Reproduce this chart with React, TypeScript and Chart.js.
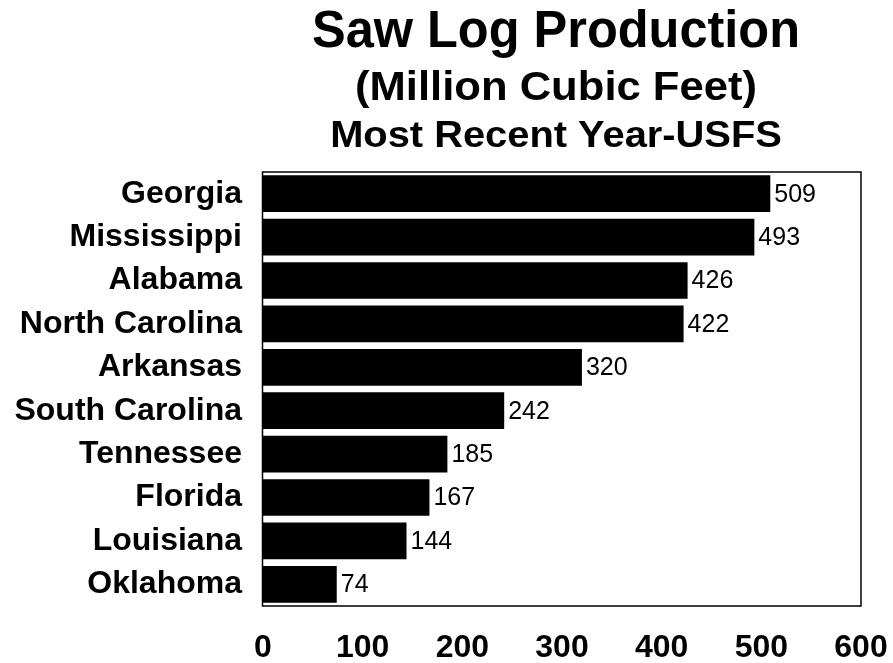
import React, { useEffect, useRef } from "react";
import { Chart, registerables } from "chart.js";

Chart.register(...registerables);

const states = [
  "Georgia",
  "Mississippi",
  "Alabama",
  "North Carolina",
  "Arkansas",
  "South Carolina",
  "Tennessee",
  "Florida",
  "Louisiana",
  "Oklahoma",
];
const sawLogVolume = [509, 493, 426, 422, 320, 242, 185, 167, 144, 74];
const titleLines = [
  "Saw Log Production",
  "(Million Cubic Feet)",
  "Most Recent Year-USFS",
];
const axisMin = 0;
const axisMax = 600;
const axisStep = 100;

const FONT = "'Liberation Sans', Arial, Helvetica, sans-serif";

const titlePlugin = {
  id: "stackedTitle",
  afterDraw(chart: any) {
    const { ctx } = chart;
    const cx = 556;
    const specs = [
      { text: titleLines[0], size: 51, y: 47, sx: 0.99 },
      { text: titleLines[1], size: 40, y: 100, sx: 1.09 },
      { text: titleLines[2], size: 37, y: 147, sx: 1.077 },
    ];
    ctx.save();
    ctx.fillStyle = "#000";
    ctx.textAlign = "center";
    ctx.textBaseline = "alphabetic";
    specs.forEach((s) => {
      ctx.save();
      ctx.font = `bold ${s.size}px ${FONT}`;
      ctx.translate(cx, s.y);
      ctx.scale(s.sx, 1);
      ctx.fillText(s.text, 0, 0);
      ctx.restore();
    });
    ctx.restore();
  },
};

const frameAndValuesPlugin = {
  id: "frameAndValues",
  afterDatasetsDraw(chart: any) {
    const { ctx, chartArea } = chart;
    ctx.save();
    ctx.strokeStyle = "#000";
    ctx.lineWidth = 1.5;
    ctx.strokeRect(
      chartArea.left - 0.5,
      chartArea.top,
      chartArea.right - chartArea.left + 0.5,
      chartArea.bottom - chartArea.top
    );
    const meta = chart.getDatasetMeta(0);
    ctx.fillStyle = "#000";
    ctx.font = `25px ${FONT}`;
    ctx.textAlign = "left";
    ctx.textBaseline = "middle";
    meta.data.forEach((bar: any, i: number) => {
      const v = chart.data.datasets[0].data[i];
      ctx.fillText(String(v), bar.x + 4, bar.y + 1);
    });
    ctx.restore();
  },
};

export default function App() {
  const canvasRef = useRef<HTMLCanvasElement>(null);

  useEffect(() => {
    const canvas = canvasRef.current;
    if (!canvas) return;
    const chart = new Chart(canvas, {
      type: "bar",
      data: {
        labels: states,
        datasets: [
          {
            data: sawLogVolume,
            backgroundColor: "#000",
            borderWidth: 0,
            barPercentage: 0.846,
            categoryPercentage: 1,
          },
        ],
      },
      options: {
        indexAxis: "y",
        responsive: false,
        animation: false,
        devicePixelRatio: 1,
        layout: { padding: { top: 172, right: 32, left: 0, bottom: 0 } },
        plugins: {
          legend: { display: false },
          title: { display: false },
          tooltip: { enabled: false },
        },
        scales: {
          x: {
            min: axisMin,
            max: axisMax,
            grid: { display: false, drawTicks: false },
            border: { display: false },
            ticks: {
              stepSize: axisStep,
              color: "#000",
              padding: 23,
              maxRotation: 0,
              font: { family: FONT, size: 32, weight: "bold" },
            },
            afterFit(scale: any) {
              scale.height = 57;
              scale.paddingLeft = 0;
              scale.paddingRight = 0;
            },
          },
          y: {
            grid: { display: false, drawTicks: false },
            border: { display: false },
            ticks: {
              color: "#000",
              padding: 21,
              font: { family: FONT, size: 32, weight: "bold" },
            },
            afterFit(scale: any) {
              scale.width = 263;
              scale.paddingTop = 0;
              scale.paddingBottom = 0;
            },
          },
        },
      },
      plugins: [titlePlugin, frameAndValuesPlugin],
    });
    return () => chart.destroy();
  }, []);

  return (
    <div style={{ position: "fixed", left: 0, top: 0, width: 893, height: 663, background: "#fff" }}>
      <canvas ref={canvasRef} width={893} height={663} />
    </div>
  );
}
